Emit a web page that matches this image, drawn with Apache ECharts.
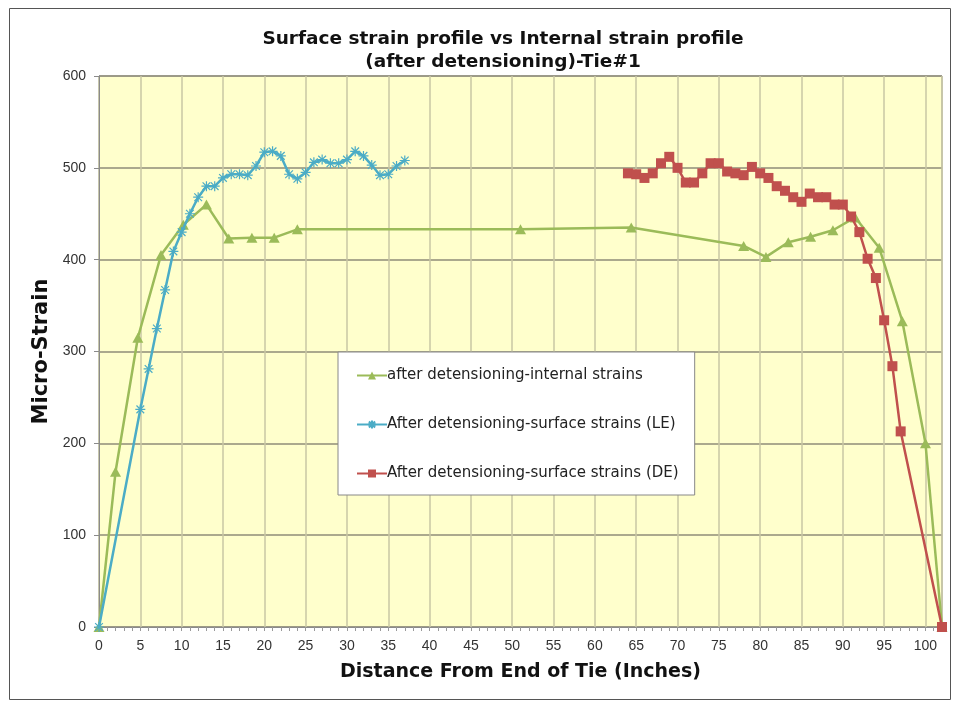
<!DOCTYPE html>
<html>
<head>
    <meta charset="UTF-8">
    <title>Surface strain profile vs Internal strain profile</title>
    <script src="https://cdn.jsdelivr.net/npm/echarts@6/dist/echarts.min.js"></script>
    <style>
        html, body { margin: 0; padding: 0; background: #fff; }
    </style>
</head>
<body>
    <div id="main" style="width: 961px;height:704px;"></div>
    <script type="text/javascript">
        // 内部应变 (after detensioning-internal strains)
        var internalX = [0, 2, 4.7, 7.5, 10.2, 13, 15.7, 18.5, 21.2, 24, 51, 64.4, 78, 80.7, 83.4, 86.1, 88.8, 91.5, 94.4, 97.2, 100, 102];
        var internalY = [0, 169, 315, 405, 438, 460, 423, 424, 424, 433, 433, 435, 415, 403, 419, 425, 432, 446, 413, 333, 200, 0];

        // 表面应变 LE
        var leX = [0, 5, 6, 7, 8, 9, 10, 11, 12, 13, 14, 15, 16, 17, 18, 19, 20, 21, 22, 23, 24, 25, 26, 27, 28, 29, 30, 31, 32, 33, 34, 35, 36, 37];
        var leY = [0, 237, 281, 325, 367, 409, 430, 450, 468, 480, 480, 489, 493, 493, 492, 502, 517, 518, 513, 493, 488, 495, 506, 509, 505, 505, 509, 518, 513, 503, 492, 493, 502, 508];

        // 表面应变 DE
        var deX = [64, 65, 66, 67, 68, 69, 70, 71, 72, 73, 74, 75, 76, 77, 78, 79, 80, 81, 82, 83, 84, 85, 86, 87, 88, 89, 90, 91, 92, 93, 94, 95, 96, 97, 102];
        var deY = [494, 493, 489, 494, 505, 512, 500, 484, 484, 494, 505, 505, 496, 494, 492, 501, 494, 489, 480, 475, 468, 463, 472, 468, 468, 460, 460, 447, 430, 401, 380, 334, 284, 213, 0];

        var seriesNames = [
            'after detensioning-internal strains',
            'After detensioning-surface strains (LE)',
            'After detensioning-surface strains (DE)'
        ];
        var titleLines = ['Surface strain profile vs Internal strain profile', '(after detensioning)-Tie#1'];

        function pairs(xs, ys) {
            return xs.map(function (x, i) { return [x, ys[i]]; });
        }

        var myChart = echarts.init(document.getElementById('main'));

        var starPath = 'path://M-1,-1L1,1M1,-1L-1,1M0,-1.3L0,1.3M-1.3,0L1.3,0';
        var wideFont = 'DejaVu Sans, Verdana, sans-serif';
        var tickFont = 'Liberation Sans, Arial, sans-serif';

        var option = {
            animation: false,
            graphic: [
                {
                    type: 'rect',
                    shape: { x: 9.5, y: 8.5, width: 941, height: 691 },
                    style: { fill: 'none', stroke: '#555', lineWidth: 1 },
                    silent: true
                },
                {
                    type: 'text',
                    x: 503,
                    y: 28,
                    style: {
                        text: titleLines.join('\n'),
                        align: 'center',
                        verticalAlign: 'top',
                        fontFamily: wideFont,
                        fontSize: 18.5,
                        fontWeight: 'bold',
                        lineHeight: 23,
                        fill: '#111'
                    }
                }
            ],
            legend: {
                orient: 'vertical',
                left: 338,
                top: 352,
                itemGap: 34,
                itemWidth: 30,
                itemHeight: 10,
                padding: [16, 16, 14, 18],
                backgroundColor: '#fff',
                borderColor: '#888',
                borderWidth: 1,
                textStyle: {
                    fontFamily: wideFont,
                    fontSize: 15,
                    color: '#222',
                    padding: [0, 0, 0, -5]
                },
                data: seriesNames
            },
            grid: {
                left: 99,
                right: 19,
                top: 76,
                bottom: 77,
                show: true,
                backgroundColor: '#FFFFCC',
                borderColor: '#8a8a8a',
                borderWidth: 1
            },
            xAxis: {
                type: 'value',
                min: 0,
                max: 102,
                interval: 5,
                name: 'Distance From End of Tie (Inches)',
                nameLocation: 'middle',
                nameGap: 36,
                nameTextStyle: {
                    fontFamily: wideFont,
                    fontSize: 19,
                    fontWeight: 'bold',
                    color: '#111'
                },
                axisLine: { show: true, lineStyle: { color: '#8a8a8a' } },
                axisTick: { show: true, length: 4, lineStyle: { color: '#9a9a9a' } },
                minorTick: { show: true, splitNumber: 5, length: 4, lineStyle: { color: '#9a9a9a' } },
                axisLabel: {
                    showMaxLabel: false,
                    fontFamily: tickFont,
                    fontSize: 14,
                    color: '#333',
                    margin: 12
                },
                splitLine: { show: true, lineStyle: { color: '#c9c7a4', width: 1.5 } }
            },
            yAxis: {
                type: 'value',
                min: 0,
                max: 600,
                interval: 100,
                name: 'Micro-Strain',
                nameLocation: 'middle',
                nameGap: 46,
                nameTextStyle: {
                    fontFamily: wideFont,
                    fontSize: 21,
                    fontWeight: 'bold',
                    color: '#111'
                },
                axisLine: { show: true, lineStyle: { color: '#8a8a8a' } },
                axisTick: { show: true, length: 5, lineStyle: { color: '#8a8a8a' } },
                axisLabel: {
                    fontFamily: tickFont,
                    fontSize: 14,
                    color: '#333',
                    margin: 13
                },
                splitLine: { show: true, lineStyle: { color: '#8f8c78', width: 1.5 } }
            },
            series: [
                {
                    name: seriesNames[0],
                    type: 'line',
                    data: pairs(internalX, internalY),
                    symbol: 'triangle',
                    symbolSize: [11, 10],
                    lineStyle: { color: '#9BBB59', width: 2.5 },
                    itemStyle: { color: '#9BBB59' },
                    z: 3
                },
                {
                    name: seriesNames[1],
                    type: 'line',
                    data: pairs(leX, leY),
                    symbol: starPath,
                    symbolSize: 10,
                    lineStyle: { color: '#4BACC6', width: 2.5 },
                    itemStyle: { color: '#4BACC6', borderColor: '#4BACC6', borderWidth: 1.2 },
                    z: 4
                },
                {
                    name: seriesNames[2],
                    type: 'line',
                    data: pairs(deX, deY),
                    symbol: 'rect',
                    symbolSize: 10,
                    lineStyle: { color: '#C0504D', width: 2.5 },
                    itemStyle: { color: '#C0504D' },
                    z: 5
                }
            ]
        };

        myChart.setOption(option);
    </script>
</body>
</html>
